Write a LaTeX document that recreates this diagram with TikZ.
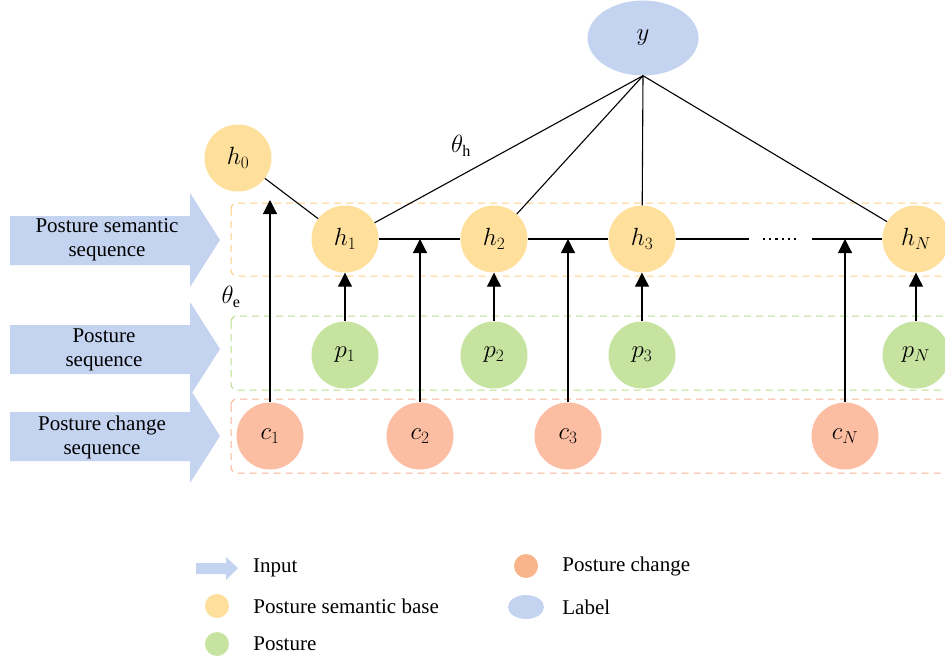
\documentclass[tikz,border=0pt]{standalone}
\usepackage{fontspec}
\setmainfont{Liberation Serif}
\usepackage{tikz}
\usetikzlibrary{positioning, arrows.meta, shapes.geometric}

\definecolor{inblue}{RGB}{196,212,240}
\definecolor{semfill}{RGB}{254,223,156}
\definecolor{posfill}{RGB}{198,227,160}
\definecolor{chgfill}{RGB}{251,190,162}
\definecolor{semline}{RGB}{252,206,130}
\definecolor{posline}{RGB}{185,222,140}
\definecolor{chgline}{RGB}{247,178,150}
\definecolor{chglegend}{RGB}{249,180,140}

\begin{document}
\begin{tikzpicture}[
        x=1pt, y=-1pt,
        every node/.style={font=\fontsize{21}{24}\selectfont},
        unit/.style={circle, minimum size=67pt, inner sep=0pt,
                     font=\fontsize{25}{28}\selectfont},
        sembase/.style={unit, fill=semfill},
        posture/.style={unit, fill=posfill},
        change/.style={unit, fill=chgfill},
        rowbox/.style={dash pattern=on 7pt off 5pt, line width=1pt,
                       rounded corners=6pt},
        link/.style={line width=1.1pt},
        uparrow/.style={-{Triangle[width=14pt,length=14pt]}, line width=1.1pt},
        seqtext/.style={align=center, inner sep=0pt},
        legtext/.style={inner sep=0pt}
    ]
    \clip (0,0) rectangle (945,658);

    %% INPUT ARROWS
    \fill[inblue] (10,216) -- (190,216) -- (190,193) -- (220,240)
                  -- (190,287) -- (190,265) -- (10,265) -- cycle;
    \fill[inblue] (10,325) -- (190,325) -- (190,302) -- (220,349)
                  -- (190,396) -- (190,374) -- (10,374) -- cycle;
    \fill[inblue] (10,412) -- (190,412) -- (190,389) -- (220,436)
                  -- (190,483) -- (190,461) -- (10,461) -- cycle;
    \node[seqtext] (semseq) at (107,240) {Posture semantic\\sequence};
    \node[seqtext] (posseq) at (104,350) {Posture\\sequence};
    \node[seqtext] (chgseq) at (102,437) {Posture change\\sequence};

    %% ROW BOXES
    \draw[rowbox, draw=semline] (231,203) rectangle (970,276);
    \draw[rowbox, draw=posline] (231,316) rectangle (970,390);
    \draw[rowbox, draw=chgline] (231,399) rectangle (970,473);

    %% LABEL
    \node[ellipse, fill=inblue, minimum width=111pt, minimum height=75pt,
          inner sep=0pt, font=\fontsize{25}{28}\selectfont] (y) at (643,38) {$y$};

    %% POSTURE SEMANTIC BASES
    \node[sembase] (h0) at (238,158) {$h_0$};
    \node[sembase] (h1) at (345,239) {$h_1$};
    \node[sembase] (h2) at (494,239) {$h_2$};
    \node[sembase] (h3) at (642,239) {$h_3$};
    \node[sembase] (hN) at (916,239) {$h_N$};

    %% POSTURES
    \node[posture] (p1) at (345,355) {$p_1$};
    \node[posture] (p2) at (494,355) {$p_2$};
    \node[posture] (p3) at (642,355) {$p_3$};
    \node[posture] (pN) at (916,355) {$p_N$};

    %% POSTURE CHANGES
    \node[change] (c1) at (270,436) {$c_1$};
    \node[change] (c2) at (420,436) {$c_2$};
    \node[change] (c3) at (568,436) {$c_3$};
    \node[change] (cN) at (845,436) {$c_N$};

    %% CHAIN
    \coordinate (gapL) at (749,239);
    \coordinate (dotsL) at (763,239);
    \coordinate (dotsR) at (800,239);
    \coordinate (gapR) at (812,239);
    \draw[link] (h0) -- (h1);
    \draw[link] (h1) -- (h2);
    \draw[link] (h2) -- (h3);
    \draw[link] (h3) -- (gapL);
    \draw[line width=2pt, dash pattern=on 2.2pt off 4pt] (dotsL) -- (dotsR);
    \draw[link] (gapR) -- (hN);

    %% OUTPUT
    \draw[link] (y.south) -- (h1);
    \draw[link] (y.south) -- (h2);
    \draw[link] (y.south) -- (h3);
    \draw[link] (y.south) -- (hN);
    \node[font=\fontsize{23}{26}\selectfont] (thetah) at (461,146) {$\theta_{\mathrm{h}}$};
    \node[font=\fontsize{23}{26}\selectfont] (thetae) at (231,297) {$\theta_{\mathrm{e}}$};

    %% INPUT CONNECTIONS
    \coordinate (c1top) at (270,200);
    \draw[uparrow] (c1) -- (c1top);
    \draw[uparrow] (c2) -- (c2 |- h1);
    \draw[uparrow] (c3) -- (c3 |- h1);
    \draw[uparrow] (cN) -- (cN |- h1);
    \draw[uparrow] (p1) -- (h1);
    \draw[uparrow] (p2) -- (h2);
    \draw[uparrow] (p3) -- (h3);
    \draw[uparrow] (pN) -- (hN);

    %% LEGEND
    \fill[inblue] (196,563) -- (226,563) -- (226,557) -- (238,568)
                  -- (226,580) -- (226,574) -- (196,574) -- cycle;
    \coordinate (legin) at (238,568);
    \node[circle, fill=semfill, minimum size=24pt, inner sep=0pt] (legsem) at (217,606) {};
    \node[circle, fill=posfill, minimum size=24pt, inner sep=0pt] (legpos) at (217,644) {};
    \node[circle, fill=chglegend, minimum size=24pt, inner sep=0pt] (legchg) at (526,566) {};
    \node[ellipse, fill=inblue, minimum width=36pt, minimum height=24pt,
          inner sep=0pt] (leglab) at (526,607) {};
    \node[legtext, right=15pt of legin] (tin) {Input};
    \node[legtext, right=24pt of legsem] (tsem) {Posture semantic base};
    \node[legtext, right=24pt of legpos] (tpos) {Posture};
    \node[legtext, right=24pt of legchg] (tchg) {Posture change};
    \node[legtext, right=18pt of leglab] (tlab) {Label};

\end{tikzpicture}
\end{document}
